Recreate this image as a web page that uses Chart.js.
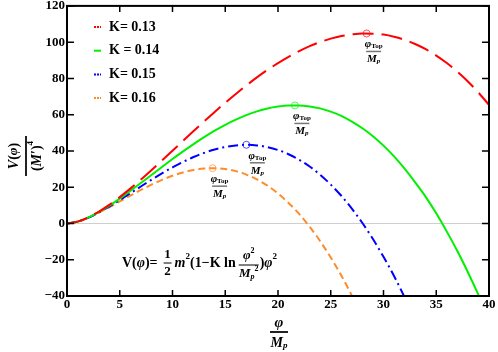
<!DOCTYPE html>
<html>
<head>
<meta charset="utf-8">
<script src="https://cdn.jsdelivr.net/npm/chart.js@4.4.0/dist/chart.umd.min.js"></script>
<style>
  html, body { margin: 0; padding: 0; background: #fff; }
  #wrap { width: 498px; height: 352px; }
</style>
</head>
<body>
<div id="wrap"><canvas id="potential"></canvas></div>
<script>
// phi / Mp sample points
const phi = [0,1,2,3,4,5,6,7,8,9,10,11,12,13,14,15,16,17,18,19,20,21,22,23,24,25,26,27,28,29,30,31,32,33,34,35,36,37,38,39,40];

// V(phi)/(M')^4
const vK013 = [0,1,3.28,6.43,10.23,14.54,19.23,24.21,29.41,34.73,40.13,45.56,50.96,56.29,61.52,66.58,71.42,76.12,80.55,84.69,88.4,91.86,95.01,97.81,100.05,101.94,103.36,104.25,104.77,104.7,104.17,102.98,101.3,99.0,96.1,92.6,88.5,83.7,78.3,72.2,65.4];
const vK014 = [0,1,3.22,6.23,9.79,13.74,17.94,22.3,26.74,31.17,35.52,39.76,43.8,47.62,51.18,54.4,57.24,59.76,61.82,63.43,64.48,65.06,65.1,64.57,63.47,61.69,59.35,56.21,52.53,48.11,42.93,37.0,30.2,22.7,14.7,5.6,-4.5,-15.2,-26.9,-39.4,-52.6];
const vK015 = [0,1,3.17,6.03,9.35,12.93,16.65,20.39,24.08,27.61,30.92,33.95,36.65,38.95,40.83,42.21,43.06,43.38,43.06,42.13,40.52,38.19,35.19,31.42,26.84,21.44,15.28,8.16,0.24,-8.58,-18.4,-29.0,-40.7,-53.4];
const vK016 = [0,1,3.11,5.84,8.9,12.13,15.36,18.49,21.42,24.05,26.32,28.15,29.49,30.29,30.48,30.02,28.87,26.98,24.33,20.87,16.56,11.33,5.28,-1.8,-9.79,-18.75,-28.73,-39.8,-51.9];

const kLabels = ['K= 0.13', 'K = 0.14', 'K= 0.15', 'K= 0.16'];
const colors = ['#ff0000', '#00f000', '#0000ff', '#ff8c2a'];
const dashes = [[21, 8], [], [10, 4, 2, 4], [7, 4]];

// top of each potential
const peakPhi = [28.4, 21.6, 17.0, 13.8];
const peakV = [104.8, 65.1, 43.4, 30.5];

const S = '"Liberation Serif", "Times New Roman", serif';
const B = s => 'bold ' + s + 'px ' + S;
const BI = s => 'bold italic ' + s + 'px ' + S;

function toPoints(vals) {
  return vals.map((v, i) => ({ x: phi[i], y: v }));
}

function runsWidth(ctx, runs) {
  let w = 0;
  runs.forEach(r => { ctx.font = r.f; w += ctx.measureText(r.t).width; });
  return w;
}

function drawRuns(ctx, x, y, runs) {
  ctx.textAlign = 'left';
  ctx.textBaseline = 'middle';
  runs.forEach(r => {
    ctx.font = r.f;
    ctx.fillText(r.t, x, y + (r.dy || 0));
    x += ctx.measureText(r.t).width;
  });
  return x;
}

function drawFrac(ctx, cx, cy, num, den, o) {
  const wn = runsWidth(ctx, num), wd = runsWidth(ctx, den);
  const bw = o.bar || Math.max(wn, wd) + 2;
  drawRuns(ctx, cx - wn / 2, cy - o.up, num);
  drawRuns(ctx, cx - wd / 2, cy + o.down, den);
  ctx.strokeStyle = o.barColor || '#000';
  ctx.lineWidth = o.lw || 1;
  ctx.beginPath();
  ctx.moveTo(cx - bw / 2, cy);
  ctx.lineTo(cx + bw / 2, cy);
  ctx.stroke();
  return bw;
}

const datasets = [vK013, vK014, vK015, vK016].map((vals, i) => ({
  label: kLabels[i],
  data: toPoints(vals),
  borderColor: colors[i],
  borderWidth: 2,
  borderDash: dashes[i],
  pointRadius: 0,
  cubicInterpolationMode: 'monotone',
  fill: false
}));

datasets.push({
  label: 'tops',
  type: 'scatter',
  data: peakPhi.map((p, i) => ({ x: p, y: peakV[i] })),
  pointRadius: 3.5,
  pointBorderWidth: 1,
  pointBackgroundColor: '#fff',
  pointBorderColor: colors.map(c => c + 'aa')
});

const decor = {
  id: 'decor',
  afterDraw(chart) {
    const { ctx, chartArea: a, scales: { x, y } } = chart;
    ctx.save();
    ctx.fillStyle = '#000';
    ctx.strokeStyle = '#000';
    ctx.lineWidth = 2;
    ctx.strokeRect(a.left, a.top, a.right - a.left, a.bottom - a.top);

    // inward ticks on all four sides
    ctx.lineWidth = 1.5;
    ctx.beginPath();
    x.ticks.forEach(t => {
      const px = x.getPixelForValue(t.value);
      ctx.moveTo(px, a.bottom); ctx.lineTo(px, a.bottom - 6);
      ctx.moveTo(px, a.top); ctx.lineTo(px, a.top + 6);
    });
    y.ticks.forEach(t => {
      const py = y.getPixelForValue(t.value);
      ctx.moveTo(a.left, py); ctx.lineTo(a.left + 7, py);
      ctx.moveTo(a.right, py); ctx.lineTo(a.right - 7, py);
    });
    ctx.stroke();

    // legend
    kLabels.forEach((lab, i) => {
      const ly = 27 + i * 23.7;
      ctx.save();
      ctx.strokeStyle = colors[i];
      ctx.lineWidth = 2;
      ctx.setLineDash(i === 1 ? [] : [2, 1]);
      ctx.beginPath();
      ctx.moveTo(94, ly); ctx.lineTo(101, ly);
      ctx.stroke();
      ctx.restore();
      ctx.fillStyle = '#000';
      drawRuns(ctx, 109, ly, [{ t: lab, f: B(14) }]);
    });

    // phi_Top / Mp labels
    peakPhi.forEach((p, i) => {
      const px = x.getPixelForValue(p) + (i === 2 ? 11 : 7);
      const py = y.getPixelForValue(peakV[i]) + 18;
      drawFrac(ctx, px, py,
        [{ t: 'φ', f: BI(11) }, { t: 'Top', f: B(7), dy: 2 }],
        [{ t: 'M', f: BI(11) }, { t: 'p', f: BI(7), dy: 2 }],
        { bar: 15, up: 7, down: 8, barColor: '#777', lw: 1.5 });
    });

    // formula
    const fy = 263;
    let cx = 122;
    cx = drawRuns(ctx, cx, fy, [{ t: 'V(', f: B(14) }, { t: 'φ', f: BI(14) }, { t: ')=', f: B(14) }]);
    cx += 6;
    drawFrac(ctx, cx + 4, fy, [{ t: '1', f: B(13) }], [{ t: '2', f: B(13) }], { bar: 8, up: 8, down: 9 });
    cx += 11;
    cx = drawRuns(ctx, cx, fy, [
      { t: 'm', f: BI(14) }, { t: '2', f: B(9), dy: -6 },
      { t: '(1−K ln', f: B(14) }
    ]);
    cx += 3;
    drawFrac(ctx, cx + 10, fy + 2,
      [{ t: 'φ', f: BI(13) }, { t: '2', f: B(8), dy: -5 }],
      [{ t: 'M', f: BI(13) }, { t: 'p', f: BI(8), dy: 3 }, { t: '2', f: B(8), dy: -5 }],
      { bar: 20, up: 9, down: 9 });
    cx += 21;
    drawRuns(ctx, cx, fy, [{ t: ')', f: B(14) }, { t: 'φ', f: BI(14) }, { t: '2', f: B(9), dy: -6 }]);

    // axis titles
    ctx.fillStyle = '#000';
    drawFrac(ctx, 279, 332,
      [{ t: 'φ', f: BI(15) }],
      [{ t: 'M', f: BI(14) }, { t: 'p', f: BI(9), dy: 3 }],
      { bar: 18, up: 9, down: 11, barColor: '#222', lw: 2 });

    ctx.save();
    ctx.translate(26, 156);
    ctx.rotate(-Math.PI / 2);
    drawFrac(ctx, 0, 0,
      [{ t: 'V', f: BI(14) }, { t: '(', f: B(14) }, { t: 'φ', f: BI(13) }, { t: ')', f: B(14) }],
      [{ t: '(', f: B(14) }, { t: 'M', f: BI(14) }, { t: '′', f: B(14) }, { t: ')', f: B(14) }, { t: '4', f: B(9), dy: -6 }],
      { bar: 40, up: 12, down: 11, barColor: '#222', lw: 2 });
    ctx.restore();

    ctx.restore();
  }
};

new Chart(document.getElementById('potential'), {
  type: 'line',
  data: { datasets: datasets },
  options: {
    responsive: true,
    maintainAspectRatio: false,
    animation: false,
    events: [],
    layout: { padding: { top: 5, right: 9, left: 0, bottom: 0 } },
    plugins: { legend: { display: false }, tooltip: { enabled: false } },
    scales: {
      x: {
        type: 'linear',
        min: 0,
        max: 40,
        afterFit: s => { s.height = 56; },
        border: { display: false },
        grid: { display: false, drawTicks: false },
        ticks: { stepSize: 5, padding: 2, color: '#000', font: { family: S, size: 13, weight: 'bold', lineHeight: 1 } }
      },
      y: {
        min: -40,
        max: 120,
        afterFit: s => { s.width = 67; },
        border: { display: false },
        grid: {
          drawTicks: false,
          color: c => (c.tick && c.tick.value === 0 ? '#cfcfcf' : 'rgba(0,0,0,0)'),
          lineWidth: 1
        },
        ticks: {
          stepSize: 20,
          padding: 2,
          color: '#000',
          font: { family: S, size: 13, weight: 'bold', lineHeight: 0.6 },
          callback: v => (v < 0 ? '\u2212' + (-v) : String(v))
        }
      }
    }
  },
  plugins: [decor]
});
</script>
</body>
</html>
